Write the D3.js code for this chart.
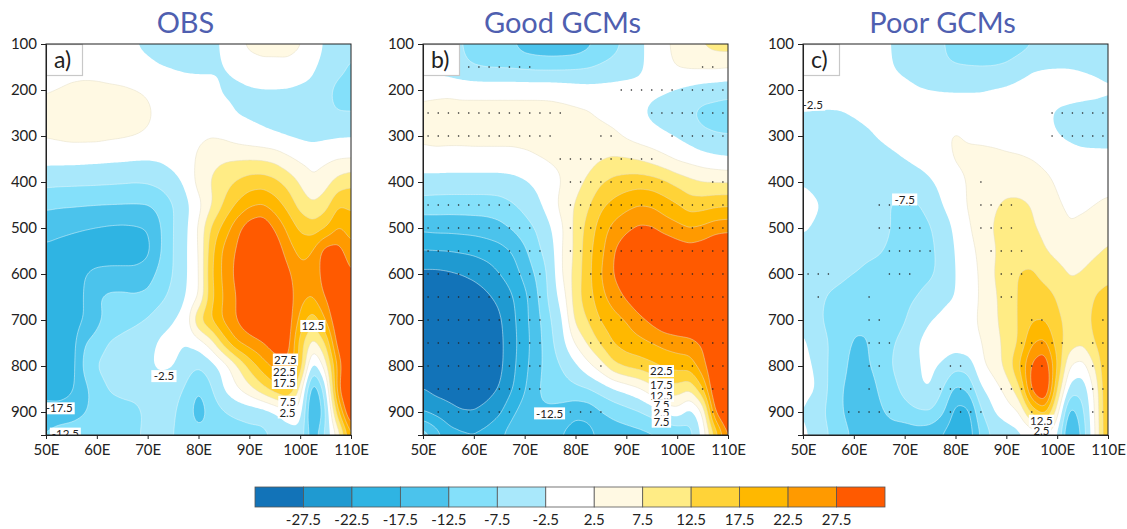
<!DOCTYPE html>
<html>
<head>
<meta charset="utf-8">
<script src="https://cdn.jsdelivr.net/npm/d3@7"></script>
<style>
  html, body { margin: 0; padding: 0; background: #fff; }
  svg text { font-family: Lato, "Open Sans", sans-serif; }
</style>
</head>
<body>
<svg id="chart" width="1127" height="529"></svg>
<script>
// lon columns 50E..110E (2.5 deg), pressure rows 100..950 hPa
const lonTicks = [50, 60, 70, 80, 90, 100, 110];
const levTicks = [100, 200, 300, 400, 500, 600, 700, 800, 900];
const thresholds = [-27.5, -22.5, -17.5, -12.5, -7.5, -2.5, 2.5, 7.5, 12.5, 17.5, 22.5, 27.5];
const bandColors = ["#1273b8", "#1f9ad1", "#2fb4e3", "#4bc3ec", "#84e0fa", "#a9e8fb", "#ffffff",
  "#fff9e3", "#ffec85", "#ffd338", "#ffb800", "#ff9a00", "#ff5a00"];

const obsGrid = [
  [0,0,0,0,-0.5,-1,-2,-2.4,-3.5,-4.5,-4.5,-4.5,-4.5,-4,-1.5,0.8,4,5,5,5,3.2,0,-3,-6,-6.5],
  [0,0,0.5,0.5,0.5,0,-0.5,-1,-1.5,-2.4,-3,-3.5,-3.5,-3.2,-2.6,-1.5,-0.5,0.5,0.5,0.7,-0.5,-1.8,-4,-6,-8],
  [2,2.7,3.5,4,3.8,3.5,3.3,2.7,2,1,0.5,0,-0.5,-1,-3.2,-3.3,-3,-2.9,-2.8,-2.9,-3.2,-3.5,-6.5,-9,-9.5],
  [4.5,5,5.5,6,6,5.5,5,4.5,3.2,1.5,1,0.5,0,-0.5,-1,-2.8,-3.2,-3.5,-4,-4.5,-4.5,-5,-6.5,-7.6,-7.6],
  [3,3.5,4,4,4,3.5,3.2,2.7,2,1.2,0.8,0.5,1.5,2.2,1.5,0,-1,-1.8,-2.4,-3,-3.5,-4,-3.5,-3,-2.8],
  [-1,-1,-1,-1.2,-1.4,-1.6,-1.8,-2,-2.2,-1.8,-0.8,0,3.5,6,7,7.2,7.2,7,6,3.5,1.5,0.8,1.5,2.3,2.4],
  [-6,-6.3,-6.4,-6.5,-6.6,-6.8,-7,-7.3,-7,-6,-4,-1.5,4.5,8,10.5,13,15,15.5,14,11,7,3,5.5,9.5,11.5],
  [-11.8,-12,-12.1,-12.3,-12.5,-12.6,-12.7,-12.8,-12.7,-11,-7.8,-4,0.5,6.5,13,18,21.5,22.7,20,16,10.5,8,10.5,17.5,16.5],
  [-15,-16,-16.7,-17.3,-17.8,-18.3,-18.5,-18.2,-17.5,-13,-7.5,-3.5,3,13.5,19.5,26,31,33,27,21.5,16.5,14.5,17,23,20],
  [-19,-19.5,-20,-20.5,-21,-21,-21,-21,-19,-13,-7.5,-3,2,16,24,28,33,35,32,25,21,23,31,30,24],
  [-18.5,-19.5,-19.5,-17.7,-16,-15.5,-15.5,-15.5,-14.5,-11,-7.5,-3,1.5,17,24,29,34,36,35,29,24,23.5,31,33,28],
  [-20,-20.5,-20,-17.5,-12.5,-11.5,-11.5,-12,-11.5,-9,-6,-2.5,1.5,16,23,27.5,33,36,35,31,24,22.8,28,33,27.5],
  [-21,-21,-20.5,-17.5,-14,-11,-9.5,-8.5,-7,-4.5,-2.5,-0.5,13.5,18.5,24,28,32,35,35,31,21,14,23,33,33],
  [-21,-21,-20,-12.5,-10.5,-7,-6,-5,-4,-1.5,-1,-2.2,-0.5,5,15,22.5,25,27,31,31,15,5,12.5,31,35],
  [-21,-21,-20,-11,-7,-5,-4.5,-4.5,-3,-1.5,-2,-5.5,-7.3,-5,-1,6,14,20,24,27,17,-5.5,5,24,37],
  [-20,-20.5,-18.5,-14,-10.5,-7,-6,-5.5,-5,-5,-6,-8,-12.5,-8,-2,2,6,11,16,19.5,6,-18,-5,28,38],
  [-15,-15,-14.5,-13,-11,-10,-9.5,-9,-6.5,-5.5,-7,-9.5,-16,-10.5,-8,-6.5,-6,-5.5,-3.5,0.5,1,-22,-9,17,36],
  [-12,-10.5,-10,-9.5,-9.5,-9.5,-9,-8.5,-6,-6,-7.5,-9,-10,-10.5,-10.5,-10,-9,-9,-7,-5.5,-4.5,-16,-6,3,22]
];

const goodGrid = [
  [-4,-5,-6,-7.5,-8.5,-9.5,-11,-12.3,-15,-16,-16.5,-16.5,-16,-14,-11,-9,-6.5,-3.5,-1,1.5,4,6,8,9.5,10],
  [-3,-4.5,-5.5,-6.8,-8,-8.5,-8.5,-8.5,-8.8,-9,-9,-8.8,-8.5,-8,-7,-6,-5,-3.5,-1,1,3,3.5,3.5,3.5,3],
  [1.5,1.5,1.5,1,1,1,1,1,1,1,1,0.5,0,-0.5,-0.5,-0.5,-0.5,-1,-1.5,-2,-3,-4,-5,-5.5,-6],
  [3.5,4,4.5,4.5,4.5,4.5,4.5,4.5,4.5,4.5,4.3,4,3.5,3,1.5,0.5,-0.5,-2,-3.5,-4.5,-5.5,-7.5,-9,-9.5,-10],
  [3.5,4,4,4,4.2,4.2,4.2,4.2,4.5,4.5,4.5,4.5,4.5,4.5,4.5,3.5,1.5,0,-1,-2,-3,-4.5,-6.5,-7.3,-7.5],
  [0.8,0.8,0.5,0.5,0.5,0.5,0.5,0.5,1,2.2,3,3.5,4.5,5.5,7,8,7.8,7,5.5,3.5,1.5,0.5,-0.5,-1.5,-2],
  [-4.5,-4.5,-4.5,-4.5,-4.5,-4.5,-4.5,-4,-3,-1.5,0.5,2.5,5.5,8.5,12,14,15,15.5,15,13.5,11,9,7.5,7.3,7],
  [-9.5,-9.8,-10,-10,-10,-10,-9.5,-8,-6,-3.5,0,4.5,8,12,16.5,19,21,22.5,22,20,18,15,15.5,16.5,17],
  [-16.5,-16,-16,-15.8,-15.5,-15,-14,-12,-9.5,-7,-3,2,9,14.5,20,24,26.5,28.5,28,25.5,24,22.5,23.5,25.5,26],
  [-22.8,-22.7,-22.5,-22,-21.5,-20.5,-19.5,-17.5,-13.5,-8.5,-5,3,8.5,16,21,27.5,31,33,34,33,31,30,31,33,34],
  [-29,-29,-28.5,-27.7,-26.5,-25,-22.5,-20,-16,-11.5,-6,3,9.5,16,22.5,28,31,33.5,35,35,35,34.5,35,35,35],
  [-30,-30.5,-30.5,-30.5,-30,-28.5,-26.5,-23,-19,-13,-6,0,10.5,15.5,21,25,28.5,32,34,36,36,36,36,36,36],
  [-30.5,-31,-31,-31,-31,-30,-28.5,-24,-19,-14,-8,-2.5,9,13,18,20.5,22.5,26,29,32,33,34,35,36,36],
  [-31,-31,-31,-31,-31,-30.5,-29,-24.5,-19.5,-14.5,-9,-3.5,3,8.5,13.5,18,20,21,22.5,24,25,25.5,28,33,36],
  [-30.5,-31,-31,-31,-31,-30.5,-29,-24,-19,-14,-10,-7,-3.5,1,5.5,11.5,14,15,16.5,18.5,19.5,20,26,33,36],
  [-27.5,-29,-29.5,-30,-30,-29.5,-27.5,-23,-18,-12.8,-10.5,-9.5,-8.5,-7.7,-5.5,-3,-1,1.5,5.5,10,10.5,8,17.5,34,37],
  [-23,-24.5,-26,-27.5,-27.7,-26,-23.5,-18.5,-15,-13,-13.5,-14.5,-16.5,-16,-13,-11,-9.5,-8,-5.5,-1.5,0.8,-5,1.5,29,36],
  [-8,-14,-20,-21,-21.5,-20.5,-18,-15,-13.5,-13.5,-15.5,-18,-20,-19.5,-16.5,-15.5,-15,-14.5,-14,-13.5,-13,-10,-1.5,13,28]
];

const poorGrid = [
  [0.5,1,1,1,1,1,0.5,-3,-4,-4.5,-6,-7.3,-9,-10.5,-11.5,-12.3,-11.5,-10,-8,-7,-6.5,-6,-6,-6,-6],
  [0.5,1,1,1,1,1,0.5,-2.5,-4,-5,-6,-7,-7.4,-7.4,-7.4,-7.2,-6.5,-4.5,-2.8,-2.4,-2.3,-2.4,-2.8,-3.5,-4.5],
  [0,0.5,0.5,0.5,0.5,0.5,0.5,0,-0.8,-2,-2.5,-2.7,-2.8,-2.8,-2.7,-2,-1.5,-1,-1,-1,-1,-1,-1,-1,-1.5],
  [-2.7,-3,-3.2,-3,-2,-1,-0.5,0,0.3,0.5,0.5,0.5,0.5,0.5,0.3,0,-0.5,-1,-1.5,-2,-3,-3.5,-4,-4.5,-5],
  [-4.5,-4.5,-4.5,-4.5,-4.5,-3.5,-2,-1,-0.5,0,0.5,2,3,2,1.5,1,0.5,0,-0.5,-1.5,-2.5,-3.8,-5,-5.3,-5.5],
  [-5.5,-5.5,-5.5,-5.5,-5.5,-5,-4.5,-3.5,-2.2,-1,-0.3,0.8,3,3.5,4,4,3.5,3.2,2.5,1.5,1,0.5,0,0,0],
  [-2.7,-3.5,-4,-5,-5.5,-6,-6.5,-6.8,-6.5,-5,-3,-1,0.8,2.8,4.5,5,5.5,5.5,5,3.5,2,1,0.5,0.5,0.8],
  [-1,-2,-3,-4,-5,-6,-7,-7.6,-8.2,-8,-6,-2.2,0,3,4,7,8.5,8.5,7.5,5,3,1.5,1.5,2.5,3.5],
  [-1.5,-3,-4,-5,-5.5,-6,-6.5,-7.6,-8.5,-9,-8,-5,-1.5,2,4.5,8,9,10,8,6.5,5,2.8,4,5,6],
  [-5,-5.5,-6,-6.3,-6.6,-7,-7.3,-8,-9,-9.5,-8.5,-6,-2.2,1,3.5,7,9.5,10.5,10,7.7,6,4.5,5,6.5,8],
  [-5.5,-6,-6.3,-6.8,-7.4,-8,-8.3,-8.5,-9,-9,-8.5,-6,-2.5,0.5,3,7.5,10.5,12.8,13.5,11,9.5,7.2,8,10,11.5],
  [-5.5,-6.5,-7.8,-8.5,-9.5,-9.5,-9.5,-9.3,-8.8,-7.6,-5.5,-3.5,-2.5,0,3,6.5,10,13,15,14.5,12.2,9,9.5,13,14],
  [-3.5,-6.5,-8.5,-10,-11.5,-11.5,-11,-10,-8,-4.5,-2.5,-1.5,-0.5,0.5,3.5,6.5,9.5,13,17,17.3,13.5,11,10.5,14,15],
  [-1.5,-4.5,-7.5,-10,-13,-13,-10,-8,-5.5,-2.5,-1,-0.3,0,1,2,6,8.5,12.8,22,24,15,10,8.5,13,16.8],
  [-1,-3,-8,-10,-15,-13,-11,-7.2,-5.5,-2.8,-1.5,-3,-6,-5.5,1.5,4.5,9.5,18,29,33,18,2,0,8,18.5],
  [-1,-2,-8,-12,-15.5,-15,-12,-9,-6,-3,-2,-7.5,-14,-11.5,-3,0,4,11,30,37,13,-5,-6,4,19],
  [-2.5,-5.5,-8.5,-12,-15.5,-15,-13.5,-10.5,-9.5,-8,-7.4,-11.5,-19.5,-19.5,-8,-2.5,0,2,14,20,5,-16,-9,3,19],
  [-1.5,-3.5,-7.5,-10,-13.5,-15.5,-16,-16,-16,-15.5,-16.5,-18.5,-21,-21,-12,-6.5,-5.5,-4,-2.5,0.5,-2.5,-21,-11,2.5,19]
];

// contour labels: text, lon, pressure
const obsLabels = [["12.5",102.5,713],["27.5",97.1,786],["22.5",96.9,813],["17.5",96.9,837],["7.5",97.6,878],["2.5",97.5,901],["-2.5",73.2,822],["-17.5",52.6,892],["-12.5",53.8,947]];
const goodLabels = [["22.5",96.9,811],["17.5",96.9,840],["12.5",96.9,865],["7.5",96.9,885],["2.5",96.9,902],["7.5",96.9,921],["-12.5",74.9,903]];
const poorLabels = [["-2.5",51.9,232],["-7.5",70,438],["12.5",96.9,919],["2.5",96.9,941]];

// significance stipples: pressure row, then [first lon, last lon] runs
const goodDots = [
  [150,[59,71],[105,107]],
  [200,[89,109]],
  [250,[51,77],[95,109]],
  [300,[51,75],[85,87],[99,109]],
  [350,[77,95]],
  [400,[79,97],[107,109]],
  [450,[51,67],[79,109]],
  [500,[51,71],[79,109]],
  [550,[51,73],[79,109]],
  [600,[51,73],[83,109]],
  [650,[51,73],[83,109]],
  [700,[51,73],[83,109]],
  [750,[51,73],[83,109]],
  [800,[51,73],[85,85],[93,93],[101,103],[107,109]],
  [850,[53,73],[105,109]],
  [900,[53,67],[79,85],[107,109]]
];
const poorDots = [
  [250,[99,109]],
  [300,[99,109]],
  [400,[85,85]],
  [450,[65,71],[85,91]],
  [500,[65,73],[85,91]],
  [550,[67,75],[87,93]],
  [600,[51,55],[67,71],[89,93]],
  [650,[53,53],[63,63],[89,91]],
  [700,[63,65],[95,97],[109,109]],
  [750,[63,67],[93,101],[107,109]],
  [800,[63,65],[79,81],[93,97],[107,109]],
  [850,[63,63],[77,83],[89,95],[107,109]],
  [900,[59,67],[79,85],[95,95],[107,109]]
];

const titles = ["OBS", "Good GCMs", "Poor GCMs"];
const tags = ["a)", "b)", "c)"];
const grids = [obsGrid, goodGrid, poorGrid];
const labelSets = [obsLabels, goodLabels, poorLabels];
const dotSets = [[], goodDots, poorDots];
const panelLeft = [46, 423, 803];
const panelWidth = 305;
const plotTop = 44, plotBottom = 435;
const upsample = 8;

const svg = d3.select("#chart");

// bilinear refinement of the table, then a small blur so contours come out round
function refine(grid) {
  const nx = grid[0].length, ny = grid.length;
  const w = (nx - 1) * upsample + 1, h = (ny - 1) * upsample + 1;
  const out = new Float64Array(w * h);
  for (let j = 0; j < h; j++) {
    const gy = j / upsample, y0 = Math.min(Math.floor(gy), ny - 2), fy = gy - y0;
    for (let i = 0; i < w; i++) {
      const gx = i / upsample, x0 = Math.min(Math.floor(gx), nx - 2), fx = gx - x0;
      out[j * w + i] = grid[y0][x0] * (1 - fx) * (1 - fy) + grid[y0][x0 + 1] * fx * (1 - fy)
        + grid[y0 + 1][x0] * (1 - fx) * fy + grid[y0 + 1][x0 + 1] * fx * fy;
    }
  }
  d3.blur2({data: out, width: w, height: h}, 1.5, 2);
  return {data: out, w, h};
}

grids.forEach((grid, k) => {
  const x = d3.scaleLinear().domain([50, 110]).range([panelLeft[k], panelLeft[k] + panelWidth]);
  const y = d3.scaleLinear().domain([100, 950]).range([plotTop, plotBottom]);
  const g = svg.append("g");
  const clipId = "clip" + k;
  g.append("clipPath").attr("id", clipId).append("rect")
    .attr("x", x(50)).attr("y", plotTop).attr("width", panelWidth).attr("height", plotBottom - plotTop);

  const field = refine(grid);
  const colX = d3.scaleLinear().domain([0.5, field.w - 0.5]).range([50, 110]);
  const rowY = d3.scaleLinear().domain([0.5, field.h - 0.5]).range([100, 950]);
  const path = d3.geoPath(d3.geoTransform({
    point(px, py) { this.stream.point(x(colX(px)), y(rowY(py))); }
  }));
  const contours = d3.contours().size([field.w, field.h]).thresholds(thresholds)(field.data);

  const plot = g.append("g").attr("clip-path", `url(#${clipId})`);
  plot.append("rect").attr("x", x(50)).attr("y", plotTop).attr("width", panelWidth).attr("height", plotBottom - plotTop)
    .attr("fill", bandColors[0]);
  plot.selectAll("path.band").data(contours).join("path")
    .attr("class", "band")
    .attr("d", path)
    .attr("fill", (d, i) => bandColors[i + 1])
    .attr("stroke", d => d.value > 0 ? "#e3dcc4" : (d.value > -5 ? "none" : "#e8f6fb"))
    .attr("stroke-width", 0.5);

  // stipples
  const dots = [];
  dotSets[k].forEach(row => {
    row.slice(1).forEach(run => {
      for (let lon = run[0]; lon <= run[1]; lon += 2) dots.push([lon, row[0]]);
    });
  });
  plot.selectAll("circle.sig").data(dots).join("circle")
    .attr("class", "sig")
    .attr("cx", d => x(d[0])).attr("cy", d => y(d[1])).attr("r", 0.8)
    .attr("fill", "#222");

  // contour labels on white chips
  const lab = plot.selectAll("g.lab").data(labelSets[k]).join("g")
    .attr("class", "lab")
    .attr("transform", d => `translate(${x(d[1])},${y(d[2])})`);
  lab.append("rect")
    .attr("x", d => -d[0].length * 2.9 - 1).attr("y", -6)
    .attr("width", d => d[0].length * 5.8 + 2).attr("height", 12)
    .attr("fill", "#fff");
  lab.append("text").attr("text-anchor", "middle").attr("dy", "0.36em")
    .attr("font-size", 11.5).attr("fill", "#222").text(d => d[0]);

  // panel tag
  g.append("rect").attr("x", x(50) + 0.5).attr("y", plotTop + 0.5).attr("width", 36).attr("height", 31)
    .attr("fill", "#fff").attr("stroke", "#c8c8c8").attr("stroke-width", 1.2);
  g.append("text").attr("x", x(50) + 8).attr("y", plotTop + 24).attr("font-size", 23).attr("fill", "#222").text(tags[k]);

  // frame and axes
  g.append("rect").attr("x", x(50)).attr("y", plotTop).attr("width", panelWidth).attr("height", plotBottom - plotTop)
    .attr("fill", "none").attr("stroke", "#222").attr("stroke-width", 1);
  const ax = g.append("g").attr("transform", `translate(0,${plotBottom})`)
    .call(d3.axisBottom(x).tickValues(lonTicks).tickSize(4).tickPadding(5).tickFormat(d => d + "E"));
  const ay = g.append("g").attr("transform", `translate(${x(50)},0)`)
    .call(d3.axisLeft(y).tickValues(levTicks).tickSize(5).tickPadding(4));
  [ax, ay].forEach(a => {
    a.selectAll("text").attr("font-size", 15).attr("fill", "#222").style("font-family", "Lato, sans-serif");
    a.selectAll("line,path").attr("stroke", "#222");
  });

  g.append("text").attr("x", x(80) - 13).attr("y", 33).attr("text-anchor", "middle")
    .attr("font-size", 29).attr("fill", "#4f5fb0").text(titles[k]);
});

// colour bar
const barX = d3.scaleLinear().domain([0, bandColors.length]).range([255, 885]);
svg.selectAll("rect.swatch").data(bandColors).join("rect")
  .attr("class", "swatch")
  .attr("x", (d, i) => barX(i)).attr("y", 487)
  .attr("width", barX(1) - barX(0)).attr("height", 20)
  .attr("fill", d => d).attr("stroke", "#555").attr("stroke-width", 0.8);
svg.selectAll("text.barlab").data(thresholds).join("text")
  .attr("class", "barlab")
  .attr("x", (d, i) => barX(i + 1)).attr("y", 525)
  .attr("text-anchor", "middle").attr("font-size", 15).attr("fill", "#222")
  .text(d => d);
</script>
</body>
</html>
